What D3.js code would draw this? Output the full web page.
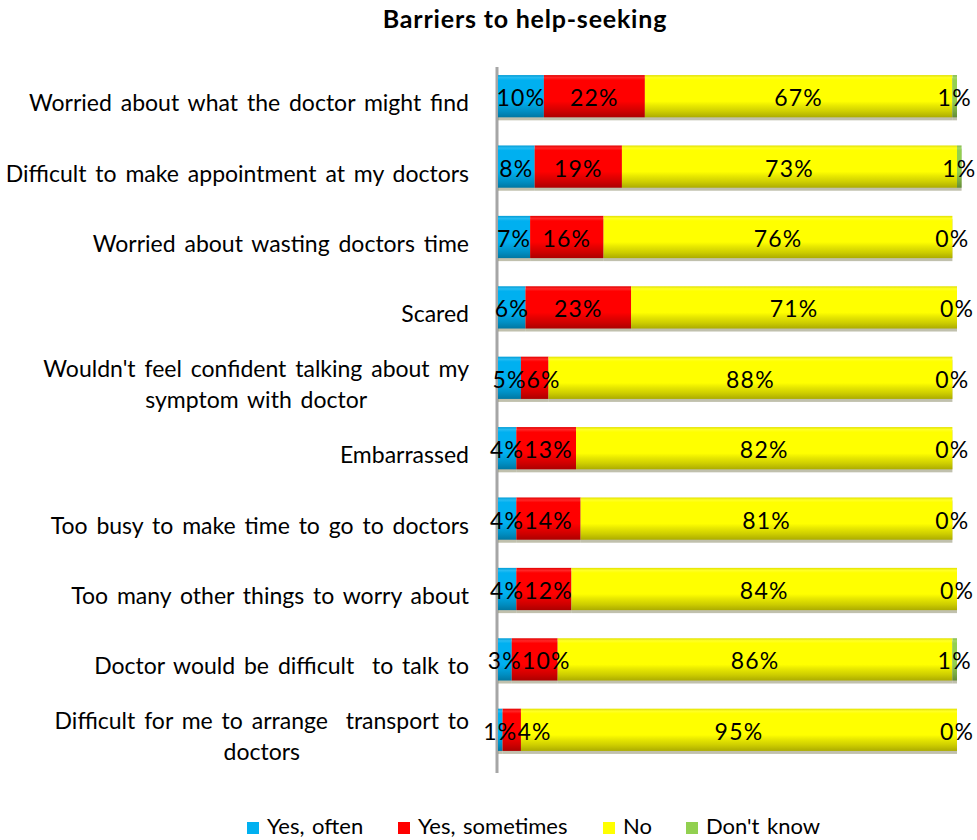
<!DOCTYPE html>
<html>
<head>
<meta charset="utf-8">
<script src="https://cdn.jsdelivr.net/npm/d3@7"></script>
<style>
  html, body { margin: 0; padding: 0; background: #fff; }
  svg { display: block; font-family: Lato, "Open Sans", sans-serif; }
  svg text { white-space: pre; }
</style>
</head>
<body>
<svg id="chart" width="977" height="840"></svg>
<script>
// Survey answers, percent of respondents per barrier
const categories = [
  "Worried about what the doctor might find",
  "Difficult to make appointment at my doctors",
  "Worried about wasting doctors time",
  "Scared",
  "Wouldn't feel confident talking about my|symptom with doctor",
  "Embarrassed",
  "Too busy to make time to go to doctors",
  "Too many other things to worry about",
  "Doctor would be difficult  to talk to",
  "Difficult for me to arrange  transport to|doctors"
];
const seriesNames = ["Yes, often", "Yes, sometimes", "No", "Don't know"];
const yesOften     = [10, 8, 7, 6, 5, 4, 4, 4, 3, 1];
const yesSometimes = [22, 19, 16, 23, 6, 13, 14, 12, 10, 4];
const no           = [67, 73, 76, 71, 88, 82, 81, 84, 86, 95];
const dontKnow     = [1, 1, 0, 0, 0, 0, 0, 0, 1, 0];
const seriesColors = ["#00B0F0", "#FF0000", "#FFFF00", "#92D050"];

const values = [yesOften, yesSometimes, no, dontKnow];
const rows = categories.map((c, i) => {
  const r = { category: c };
  seriesNames.forEach((s, k) => r[s] = values[k][i]);
  return r;
});

const svg = d3.select("#chart");

const x = d3.scaleLinear().domain([0, 100]).range([498, 957]);
const y = d3.scaleBand().domain(categories).range([61, 765])
  .paddingInner(0.4).paddingOuter(0.2);

const stacked = d3.stack().keys(seriesNames)(rows);

// Bevel-like vertical gradients for each series
const defs = svg.append("defs");
function shade(c, k) { return d3.color(c).darker(k).formatHex(); }
function tint(c, k) { return d3.interpolateRgb(c, "#ffffff")(k); }
seriesColors.forEach((c, i) => {
  const g = defs.append("linearGradient").attr("id", "grad" + i)
    .attr("x1", 0).attr("y1", 0).attr("x2", 0).attr("y2", 1);
  [[0, shade(c, 0.35)], [0.06, tint(c, 0.15)], [0.12, c], [0.62, c],
   [0.72, shade(c, 0.25)], [0.86, shade(c, 0.6)], [1, shade(c, 1.1)]]
    .forEach(([o, col]) => g.append("stop").attr("offset", o).attr("stop-color", col));
});

// Title
svg.append("text")
  .attr("x", 525).attr("y", 28)
  .attr("text-anchor", "middle")
  .attr("font-size", 25).attr("font-weight", "bold")
  .attr("letter-spacing", 0.8)
  .text("Barriers to help-seeking");

// Vertical axis line (behind bars and labels)
svg.append("line")
  .attr("x1", 497).attr("x2", 497)
  .attr("y1", 67).attr("y2", 773)
  .attr("stroke", "#A6A6A6").attr("stroke-width", 3);

// Bars
const layers = svg.append("g").selectAll("g")
  .data(stacked).join("g");

// soft shadow under each segment
layers.selectAll("rect.shadow")
  .data(d => d.filter(p => p[1] > p[0]))
  .join("rect")
  .attr("class", "shadow")
  .attr("x", p => x(p[0]))
  .attr("y", p => y(p.data.category) + 3)
  .attr("width", p => x(p[1]) - x(p[0]))
  .attr("height", y.bandwidth())
  .attr("fill", "#8c8c6a").attr("opacity", 0.55);

layers.selectAll("rect.seg")
  .data((d, i) => d.map(p => Object.assign(p, { si: i })).filter(p => p[1] > p[0]))
  .join("rect")
  .attr("class", "seg")
  .attr("x", p => x(p[0]))
  .attr("y", p => y(p.data.category))
  .attr("width", p => x(p[1]) - x(p[0]))
  .attr("height", y.bandwidth())
  .attr("fill", p => `url(#grad${p.si})`);

// Data labels, centred on their segment; a label that would run into
// the previous one in the same row is pushed right until they just touch
const labelLayer = svg.append("g");
categories.forEach((c, ri) => {
  let prevRight = -Infinity;
  stacked.forEach(layer => {
    const p = layer[ri];
    const t = labelLayer.append("text")
      .attr("y", y(c) + y.bandwidth() / 2 + 10)
      .attr("text-anchor", "middle")
      .attr("font-size", 23)
      .attr("letter-spacing", 1.2)
      .attr("fill", "#000")
      .text((p[1] - p[0]) + "%");
    const w = t.node().getComputedTextLength();
    let cx = (x(p[0]) + x(p[1])) / 2;
    if (cx - w / 2 < prevRight) cx = prevRight + w / 2;
    t.attr("x", cx);
    prevRight = cx + w / 2;
  });
});

// Category labels (wrapped labels are centred as a block)
const labelRight = 469;
categories.forEach(c => {
  const lines = c.split("|");
  const cy = y(c) + y.bandwidth() / 2;
  const g = svg.append("g").attr("font-size", 23).attr("word-spacing", 3);
  if (lines.length === 1) {
    g.append("text").attr("x", labelRight).attr("y", cy + 15)
      .attr("text-anchor", "end").text(lines[0]);
  } else {
    const t1 = g.append("text").attr("y", cy - 1)
      .attr("text-anchor", "middle").text(lines[0]);
    const w = t1.node().getComputedTextLength();
    const cx = labelRight - w / 2;
    t1.attr("x", cx);
    g.append("text").attr("x", cx).attr("y", cy + 30)
      .attr("text-anchor", "middle").text(lines[1]);
  }
});

// Legend
const legendX = [247, 398, 603, 686];
const legend = svg.append("g").selectAll("g").data(seriesNames).join("g")
  .attr("transform", (d, i) => `translate(${legendX[i]},822)`);
legend.append("rect").attr("width", 12).attr("height", 12)
  .attr("fill", (d, i) => seriesColors[i]);
legend.append("text").attr("x", 20).attr("y", 12)
  .attr("font-size", 22).attr("word-spacing", 2).text(d => d);
</script>
</body>
</html>
